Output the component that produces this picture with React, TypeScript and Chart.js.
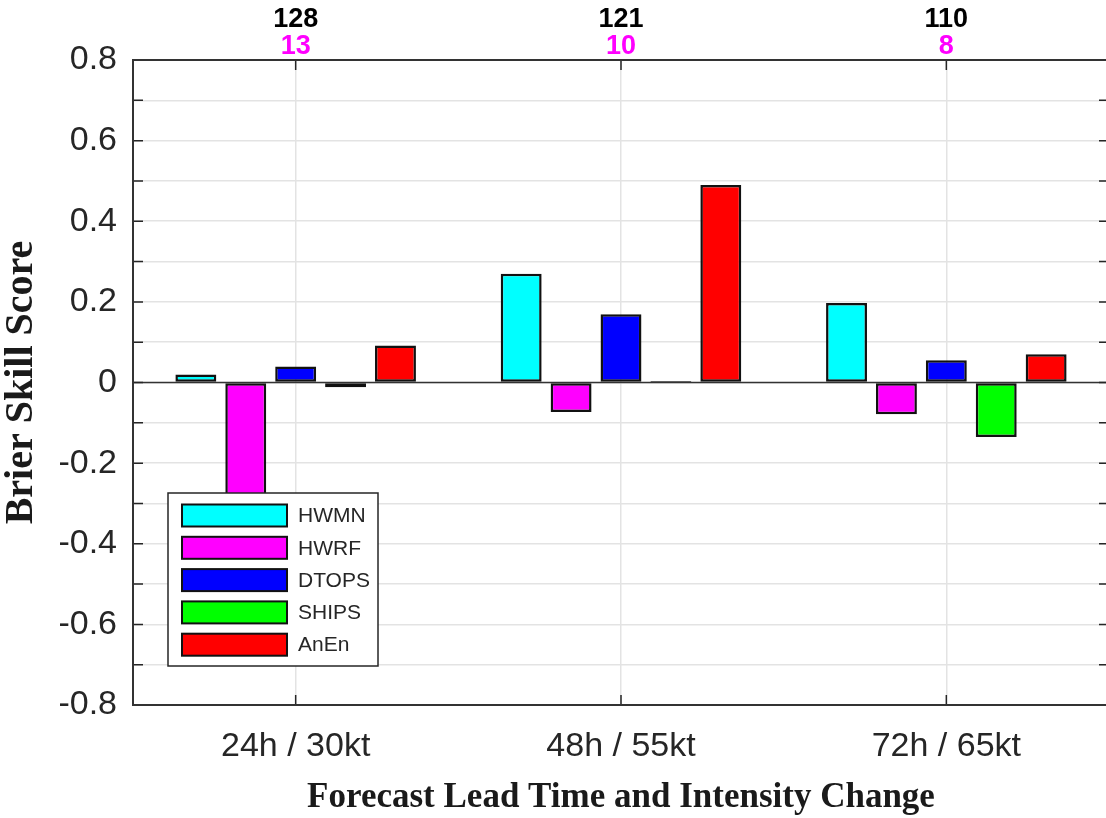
import React, { useEffect, useRef } from 'react';
import { Chart, registerables } from 'chart.js';

Chart.register(...registerables);

const categories = ['24h / 30kt', '48h / 55kt', '72h / 65kt'];
const sampleTotals = [128, 121, 110];
const riCounts = [13, 10, 8];
const seriesNames = ['HWMN', 'HWRF', 'DTOPS', 'SHIPS', 'AnEn'];
const seriesColors = ['#00ffff', '#ff00ff', '#0000ff', '#00ff00', '#ff0000'];
const hwmn = [0.02, 0.27, 0.197];
const hwrf = [-0.35, -0.073, -0.079];
const dtops = [0.04, 0.169, 0.055];
const ships = [-0.012, 0.004, -0.135];
const anen = [0.092, 0.49, 0.07];
const yMin = -0.8;
const yMax = 0.8;
const yStep = 0.1;

const AXIS = '#262626';

const decorPlugin = {
  id: 'decor',
  beforeDatasetsDraw(chart: any) {
    const { ctx, chartArea } = chart;
    const y0 = chart.scales.y.getPixelForValue(0);
    ctx.save();
    ctx.strokeStyle = '#333333';
    ctx.lineWidth = 1.5;
    ctx.beginPath();
    ctx.moveTo(chartArea.left, y0);
    ctx.lineTo(chartArea.right, y0);
    ctx.stroke();
    ctx.restore();
  },
  afterDatasetsDraw(chart: any) {
    const { ctx, chartArea } = chart;
    const bx = chartArea.left + 35;
    const by = chartArea.bottom - 212;
    const bw = 210;
    const bh = 173;
    ctx.save();
    ctx.fillStyle = '#ffffff';
    ctx.fillRect(bx, by, bw, bh);
    ctx.strokeStyle = AXIS;
    ctx.lineWidth = 1.5;
    ctx.strokeRect(bx, by, bw, bh);
    chart.data.datasets.forEach((ds: any, i: number) => {
      const cy = by + 22.5 + i * 32.3;
      ctx.fillStyle = ds.backgroundColor;
      ctx.fillRect(bx + 14, cy - 11, 105, 22);
      ctx.strokeStyle = '#111111';
      ctx.lineWidth = 2;
      ctx.strokeRect(bx + 14, cy - 11, 105, 22);
      ctx.fillStyle = AXIS;
      ctx.font = '21px "Liberation Sans", Arial, sans-serif';
      ctx.textAlign = 'left';
      ctx.textBaseline = 'middle';
      ctx.fillText(ds.label, bx + 130, cy + 1);
    });
    ctx.restore();
  },
  afterDraw(chart: any) {
    const { ctx, chartArea } = chart;
    const { left, right, top, bottom } = chartArea;
    const xs = chart.scales.x;
    const ys = chart.scales.y;
    ctx.save();
    ctx.strokeStyle = AXIS;
    ctx.lineWidth = 1.5;
    ctx.beginPath();
    ys.ticks.forEach((t: any) => {
      const py = ys.getPixelForValue(t.value);
      ctx.moveTo(left, py);
      ctx.lineTo(left + 10, py);
      ctx.moveTo(right, py);
      ctx.lineTo(right - 10, py);
    });
    categories.forEach((_c, i) => {
      const px = xs.getPixelForValue(i);
      ctx.moveTo(px, bottom);
      ctx.lineTo(px, bottom - 10);
      ctx.moveTo(px, top);
      ctx.lineTo(px, top + 10);
    });
    ctx.stroke();
    ctx.strokeStyle = '#333333';
    ctx.lineWidth = 2;
    ctx.strokeRect(left, top, right - left, bottom - top);
    ctx.textAlign = 'center';
    ctx.textBaseline = 'middle';
    ctx.font = 'bold 27px "Liberation Sans", Arial, sans-serif';
    categories.forEach((_c, i) => {
      const px = xs.getPixelForValue(i);
      ctx.fillStyle = '#000000';
      ctx.fillText(String(sampleTotals[i]), px, 20);
      ctx.fillStyle = '#ff00ff';
      ctx.fillText(String(riCounts[i]), px, 47);
    });
    ctx.restore();
  },
};

export default function App() {
  const ref = useRef<HTMLCanvasElement | null>(null);
  useEffect(() => {
    if (!ref.current) return;
    const values = [hwmn, hwrf, dtops, ships, anen];
    const chart = new Chart(ref.current, {
      type: 'bar',
      data: {
        labels: categories,
        datasets: seriesNames.map((name, i) => ({
          label: name,
          data: values[i],
          backgroundColor: seriesColors[i],
          borderColor: '#111111',
          borderWidth: 2.5,
          borderSkipped: false,
          categoryPercentage: 0.767,
          barPercentage: 0.82,
        })),
      },
      options: {
        responsive: false,
        animation: false,
        devicePixelRatio: 1,
        layout: { padding: { top: 60, right: 11, left: 0, bottom: 0 } },
        plugins: {
          legend: { display: false },
          tooltip: { enabled: false },
        },
        scales: {
          x: {
            type: 'category',
            offset: true,
            grid: { offset: false, color: '#e3e3e3', lineWidth: 1.5, drawTicks: false },
            border: { display: false },
            ticks: {
              color: AXIS,
              padding: 21,
              font: { family: '"Liberation Sans", Arial, sans-serif', size: 34 },
              maxRotation: 0,
            },
            title: {
              display: true,
              text: 'Forecast Lead Time and Intensity Change',
              color: '#1a1a1a',
              font: { family: '"Liberation Serif", "Times New Roman", serif', size: 35, weight: 'bold', lineHeight: 1 },
              padding: { top: 0, bottom: 3 },
            },
            afterFit(scale: any) {
              scale.height = 113;
            },
          },
          y: {
            min: yMin,
            max: yMax,
            grid: { color: '#e3e3e3', lineWidth: 1.5, drawTicks: false },
            border: { display: false },
            ticks: {
              stepSize: yStep,
              autoSkip: false,
              color: AXIS,
              padding: 16,
              font: { family: '"Liberation Sans", Arial, sans-serif', size: 34 },
              callback: (v: any) => {
                const k = Math.round(Number(v) * 10);
                return k % 2 === 0 ? String(k / 10) : '';
              },
            },
            title: {
              display: true,
              text: 'Brier Skill Score',
              color: '#1a1a1a',
              font: { family: '"Liberation Serif", "Times New Roman", serif', size: 40, weight: 'bold', lineHeight: 1 },
              padding: { top: 2, bottom: 0 },
            },
            afterFit(scale: any) {
              scale.width = 133;
            },
          },
        },
      },
      plugins: [decorPlugin],
    });
    return () => chart.destroy();
  }, []);
  return (
    <div style={{ position: 'absolute', left: 0, top: 0, width: 1106, height: 818, overflow: 'hidden', background: '#fff' }}>
      <canvas ref={ref} width={1120} height={818} style={{ width: 1120, height: 818, display: 'block' }} />
    </div>
  );
}
